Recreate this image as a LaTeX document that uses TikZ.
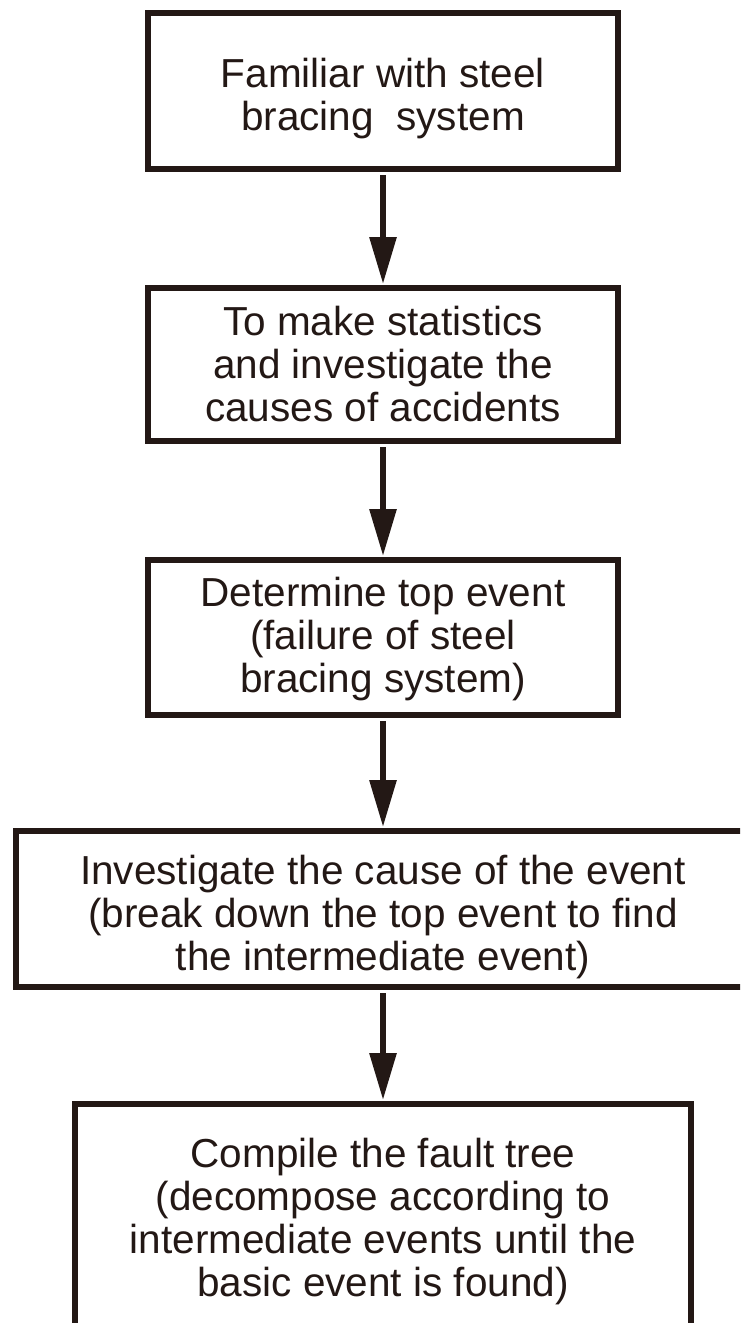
\documentclass[tikz,border=0pt]{standalone}
\usepackage{fontspec}
\setmainfont{Liberation Sans}
\usetikzlibrary{arrows.meta}
\definecolor{ink}{RGB}{35,24,21}
\newcommand\mytopgap[1]{\rule{0pt}{#1}}
\begin{document}
\begin{tikzpicture}[x=1pt,y=1pt,
  box/.style={draw=ink, line width=6pt, text=ink, align=center, inner sep=0pt, outer sep=0pt,
    font=\fontsize{40.5}{43}\selectfont},
  arr/.style={draw=ink, line width=6pt, -{Triangle[width=26pt,length=47pt]},
    shorten <=6pt, shorten >=4pt}]
\clip (0,0) rectangle (740,-1323);
\fill[white] (0,0) rectangle (740,-1323);
\node[box, minimum width=470, minimum height=156.5] (b1) at (383,-90.75)
  {\mytopgap{45pt}Familiar with steel\\bracing \ system};
\node[box, minimum width=470, minimum height=153] (b2) at (383,-364.5)
  {To make statistics\\and investigate the\\causes of accidents};
\node[box, minimum width=470, minimum height=155] (b3) at (383,-637.5)
  {\mytopgap{33pt}Determine top event\\(failure of steel\\bracing system)};
\node[box, minimum width=734, minimum height=156] (b4) at (383,-909)
  {\mytopgap{45pt}Investigate the cause of the event\\(break down the top event to find\\the intermediate event)};
\node[box, minimum width=616, minimum height=226] (b5) at (383,-1217)
  {\mytopgap{39pt}Compile the fault tree\\(decompose according to\\intermediate events until the\\basic event is found)};
\draw[arr] (b1.south) -- (b2.north);
\draw[arr] (b2.south) -- (b3.north);
\draw[arr] (b3.south) -- (b4.north);
\draw[arr] (b4.south) -- (b5.north);
\end{tikzpicture}
\end{document}
